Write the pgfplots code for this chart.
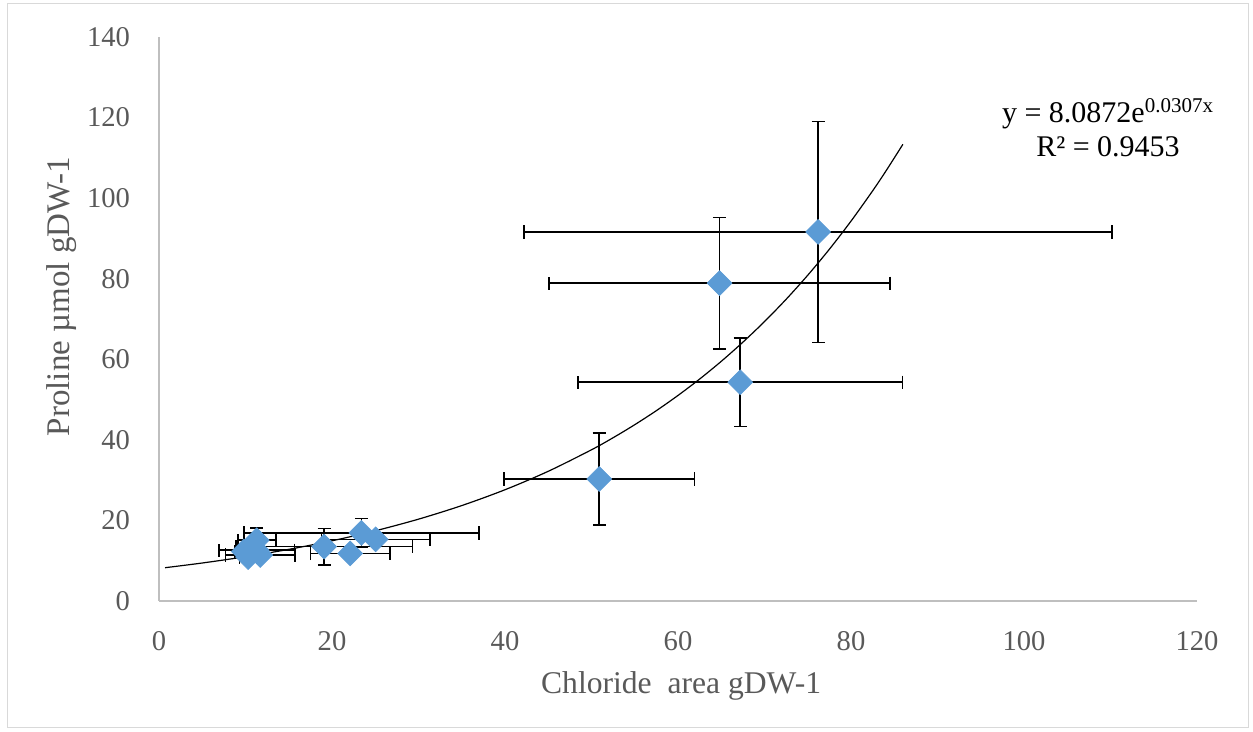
\documentclass[border=0pt]{standalone}
\usepackage{fontspec}
\setmainfont{Liberation Serif}
\usepackage{pgfplots}
\pgfplotsset{compat=1.18}
\definecolor{ptblue}{HTML}{5B9BD5}
\definecolor{txtgray}{HTML}{595959}
\definecolor{axgray}{HTML}{BFBFBF}
\begin{document}
\begin{tikzpicture}
\path (0pt,0pt) rectangle (626.5pt,366pt);
\draw[black!15, line width=0.5pt] (3.5pt,2pt) rectangle (624pt,364pt);
\begin{axis}[
  at={(79.5pt,65.5pt)}, anchor=south west,
  scale only axis, width=519pt, height=282pt,
  xmin=0, xmax=120, ymin=0, ymax=140,
  xtick={0,20,...,120}, ytick={0,20,...,140},
  axis x line*=bottom, axis y line*=left,
  axis line style={axgray, line width=0.75pt},
  major tick length=0pt,
  tick label style={font=\fontsize{14.3}{16}\selectfont, text=txtgray},
  /pgf/number format/assume math mode=true,
  xticklabel style={yshift=-11.5pt},
  yticklabel style={xshift=-11pt},
  xlabel={Chloride\ \ area gDW-1},
  ylabel={Proline µmol gDW-1},
  label style={font=\fontsize{15.8}{18}\selectfont, text=txtgray},
  xlabel style={at={(axis description cs:0.503,0)}, anchor=center, yshift=-42.5pt},
  ylabel style={at={(axis description cs:0,0.54)}, anchor=center, yshift=48.5pt, font=\fontsize{16.5}{18}\selectfont},
  clip=false,
]
% trendline y = 8.0872 e^{0.0307x} (sampled values)
\addplot[black, line width=0.6pt, smooth, no markers] coordinates {
 (0.7,8.262) (5,9.429) (10,10.993) (15,12.817) (20,14.944) (25,17.422) (30,20.313)
 (35,23.684) (40,27.614) (45,32.195) (50,37.535) (52.5,40.53) (55,43.762) (57.5,47.25)
 (60,51.024) (62.5,55.09) (65,59.488) (67.5,64.24) (70,69.359) (72.5,74.89) (75,80.867)
 (77.5,87.32) (80,94.288) (82.5,101.81) (84,106.61) (86,113.36)
};
\addplot[
  only marks,
  mark=square*,
  mark size=4.4pt,
  mark options={fill=ptblue, draw=ptblue, rotate=45, line width=0.3pt},
  error bars/.cd,
    x dir=both, x explicit,
    y dir=both, y explicit,
    error bar style={black, line width=0.8pt},
    error mark options={black, line width=0.8pt, mark size=3.3pt, rotate=90},
] coordinates {
 (76.2,91.6) +- (34,27.4)
 (64.8,78.9) +- (19.7,16.3)
 (67.2,54.3) +- (18.75,11.0)
 (50.9,30.3) +- (11.0,11.4)
 (23.4,16.9) +- (13.6,3.6)
 (25.05,15.3) +- (6.25,1.5)
 (19.1,13.5) +- (10.2,4.5)
 (22.1,11.8) +- (4.6,1.0)
 (11.3,15.1) +- (2.2,3.0)
 (11.3,12.6) +- (4.35,1.0)
 (11.7,11.4) +- (4.0,1.0)
 (10.3,10.9) +- (1.0,1.0)
 (9.8,12.3) +- (1.0,1.0)
};
\end{axis}
\node[align=center, font=\fontsize{15}{17}\selectfont, text=black] at (554pt,302pt)
  {y = 8.0872e\textsuperscript{0.0307x}\\R² = 0.9453};
\end{tikzpicture}
\end{document}
